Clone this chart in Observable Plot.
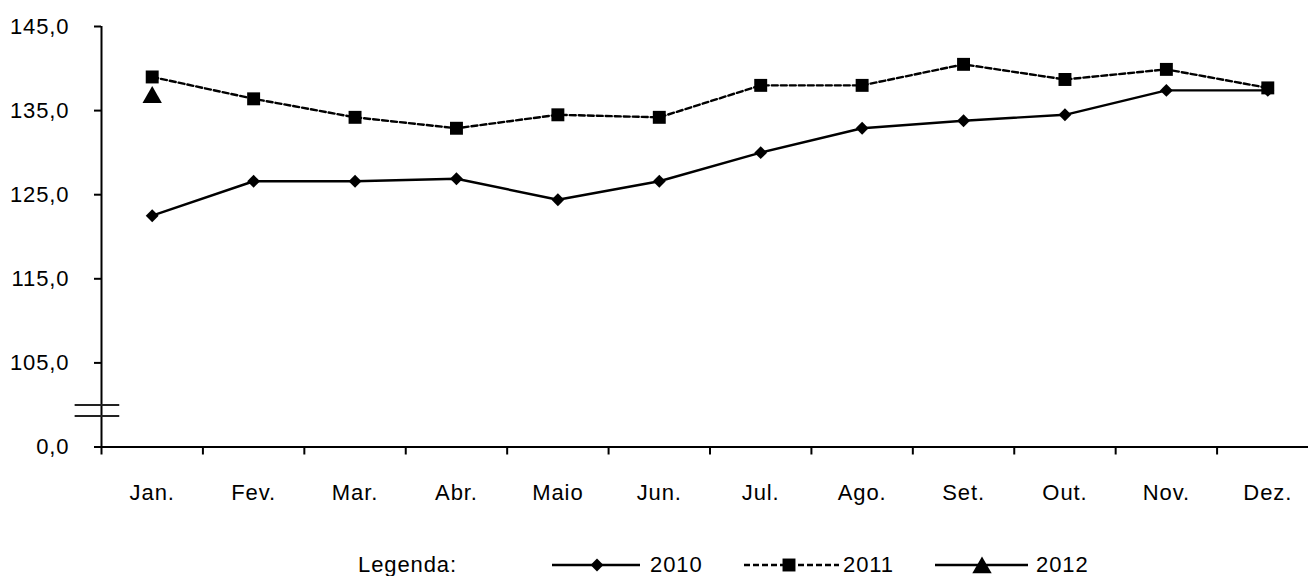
<!DOCTYPE html>
<html><head><meta charset="utf-8">
<script src="https://cdn.jsdelivr.net/npm/d3@7"></script>
<script src="https://cdn.jsdelivr.net/npm/@observablehq/plot@0.6"></script>
<style>
body{margin:0;background:#fff;}
#chart{position:relative;width:1308px;height:576px;font-family:Arial,"Liberation Sans",sans-serif;color:#000;}
#chart svg{display:block;}
#legend{position:absolute;left:0;top:520px;}
</style></head><body><div id="chart"></div>
<script>
const months = ["Jan.","Fev.","Mar.","Abr.","Maio","Jun.","Jul.","Ago.","Set.","Out.","Nov.","Dez."];
const values2010 = [122.5,126.6,126.6,126.9,124.4,126.6,130.0,132.9,133.8,134.5,137.4,137.4];
const values2011 = [139.0,136.4,134.2,132.9,134.5,134.2,138.0,138.0,140.5,138.7,139.9,137.7];
const values2012 = [136.9];
const yTicks = [95,105,115,125,135,145];
const yTickLabels = ["0,0","105,0","115,0","125,0","135,0","145,0"];
const breakValues = [100.0, 98.7];
const legendTitle = "Legenda:";
const legendLabels = ["2010","2011","2012"];

const rows = (vals, year) => vals.map((v, i) => ({pos: i + 0.5, month: months[i], value: v, year}));
const d2010 = rows(values2010, "2010");
const d2011 = rows(values2011, "2011");
const d2012 = rows(values2012, "2012");
const boundaries = d3.range(months.length + 1);
const centers = months.map((m, i) => i + 0.5);

const FS = 22, LS = "0.9px", LW = 2.4;

const plot = Plot.plot({
  width: 1308,
  height: 520,
  marginLeft: 101,
  marginRight: 0,
  marginTop: 26,
  marginBottom: 73.5,
  style: {fontFamily: 'Arial, "Liberation Sans", sans-serif', fontSize: FS + "px", letterSpacing: LS, color: "#000", background: "#fff"},
  x: {type: "linear", domain: [0, months.length], range: [101, 1318], label: null},
  y: {type: "linear", domain: [95, 145], range: [446.5, 26], label: null},
  marks: [
    Plot.axisY({ticks: yTicks, tickFormat: d => yTickLabels[yTicks.indexOf(d)], tickSize: 7, tickPadding: 25, strokeWidth: 2, fontSize: FS, label: null}),
    Plot.axisX({ticks: boundaries, tickFormat: () => "", tickSize: 8, strokeWidth: 2, label: null}),
    Plot.axisX({ticks: centers, tickFormat: d => months[Math.floor(d)], tickSize: 0, tickPadding: 37, fontSize: FS, label: null}),
    Plot.ruleX([0], {stroke: "#000", strokeWidth: 2}),
    Plot.ruleY([95], {stroke: "#000", strokeWidth: 2}),
    Plot.ruleY(breakValues, {x1: -0.26, x2: 0.18, stroke: "#222", strokeWidth: 2}),
    Plot.line(d2010, {x: "pos", y: "value", stroke: "#000", strokeWidth: LW}),
    Plot.dot(d2010, {x: "pos", y: "value", symbol: "diamond2", r: 5.8, fill: "#000", stroke: "none"}),
    Plot.line(d2011, {x: "pos", y: "value", stroke: "#000", strokeWidth: LW, strokeDasharray: "6,3"}),
    Plot.dot(d2011, {x: "pos", y: "value", symbol: "square", r: 7.3, fill: "#000", stroke: "none"}),
    Plot.dot(d2012, {x: "pos", y: "value", symbol: "triangle", r: 7.2, dy: 2.7, fill: "#000", stroke: "none"})
  ]
});
const chart = document.getElementById("chart");
chart.appendChild(plot);

// legend
const leg = d3.select(chart).append("svg").attr("id", "legend")
  .attr("width", 1308).attr("height", 56)
  .style("font-family", 'Arial, "Liberation Sans", sans-serif')
  .style("font-size", FS + "px").style("letter-spacing", LS);
const ly = 45, lt = 52;
leg.append("text").attr("x", 358).attr("y", lt).attr("fill", "#000").text(legendTitle);
const items = [
  {x1: 552, x2: 640, mx: 597, tx: 650, dash: null, sym: d3.symbolDiamond2, size: Math.PI * 5.8 * 5.8, dy: 0},
  {x1: 744, x2: 839, mx: 789, tx: 843, dash: "6,3", sym: d3.symbolSquare, size: Math.PI * 7.3 * 7.3, dy: 0},
  {x1: 935, x2: 1028, mx: 982, tx: 1036, dash: null, sym: d3.symbolTriangle, size: Math.PI * 7.2 * 7.2, dy: 2.7}
];
items.forEach((it, i) => {
  leg.append("line").attr("x1", it.x1).attr("x2", it.x2).attr("y1", ly).attr("y2", ly)
    .attr("stroke", "#000").attr("stroke-width", LW).attr("stroke-dasharray", it.dash);
  leg.append("path").attr("d", d3.symbol(it.sym, it.size)()).attr("transform", `translate(${it.mx},${ly + it.dy})`).attr("fill", "#000");
  leg.append("text").attr("x", it.tx).attr("y", lt).attr("fill", "#000").text(legendLabels[i]);
});
</script></body></html>
